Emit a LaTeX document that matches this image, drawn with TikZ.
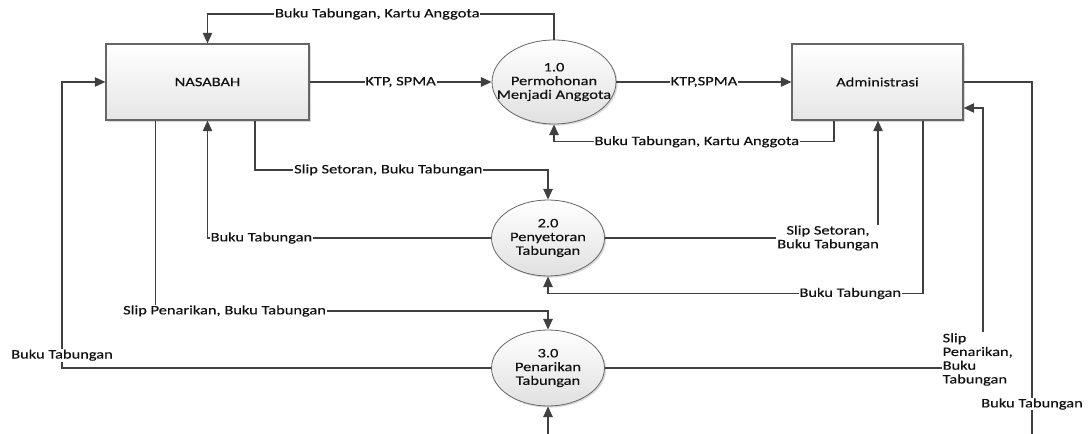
\documentclass[tikz,border=0pt]{standalone}
\usepackage{fontspec}
\setmainfont{Carlito}[FakeStretch=1.27, FakeBold=0.3]
\usetikzlibrary{arrows.meta,shapes.geometric,shadows}
\definecolor{wire}{HTML}{404040}
\definecolor{rim}{HTML}{666666}
\definecolor{ink}{HTML}{111111}
\tikzset{
  txt/.style={font=\fontsize{9.7pt}{10.3pt}\selectfont, text=ink},
  entity/.style={txt, rectangle, draw=rim, line width=0.8pt,
    top color=white, bottom color=black!10, inner sep=0pt,
    minimum height=57pt,
    drop shadow={shadow xshift=1.2pt, shadow yshift=-1.2pt, opacity=0.3}},
  process/.style={ellipse, draw=rim, line width=0.6pt,
    top color=white, bottom color=black!12, inner sep=0pt,
    drop shadow={shadow xshift=1.2pt, shadow yshift=-1.2pt, opacity=0.3}},
  ptext/.style={txt, align=center, inner sep=0pt},
  flow/.style={draw=wire, line width=1.2pt, -{Triangle[length=8pt,width=7pt]}},
  lbl/.style={txt, fill=white, inner sep=0.6pt},
}
\begin{document}
\begin{tikzpicture}[x=0.75pt, y=-0.75pt]
\useasboundingbox (0,0) rectangle (1091,434);

% external entities
\node[entity, minimum width=152.25pt] (nas) at (207.5,82) {NASABAH};
\node[entity, minimum width=128.25pt] (adm) at (877.5,82) {Administrasi};

% processes
\node[process, minimum width=93pt, minimum height=63pt] (p1) at (554,82) {};
\node[ptext] (p1t) at (p1) {1.0\\Permohonan\\Menjadi Anggota};
\node[process, minimum width=84.75pt, minimum height=57pt] (p2) at (548,238) {};
\node[ptext] (p2t) at (p2) {2.0\\Penyetoran\\Tabungan};
\node[process, minimum width=84.75pt, minimum height=57pt] (p3) at (548,368) {};
\node[ptext] (p3t) at (p3) {3.0\\Penarikan\\Tabungan};

% bend points
\coordinate (t1) at (554,14);     \coordinate (t2) at (207.5,14);
\coordinate (r1) at (834,141.7);  \coordinate (r2) at (554,141.7);
\coordinate (s1) at (255,170);    \coordinate (s2) at (548,170);
\coordinate (u1) at (207.5,238);
\coordinate (v1) at (878,238);
\coordinate (w1) at (923,293.5);  \coordinate (w2) at (548,293.5);
\coordinate (k1) at (155.5,311);  \coordinate (k2) at (548,311);
\coordinate (m1) at (62,368);
\coordinate (n1) at (983,368);    \coordinate (n2) at (983,108);
\coordinate (q1) at (1032,82);    \coordinate (q2) at (1032,450);
\coordinate (q3) at (548,450);

% data flows
\draw[flow] (nas.east) -- node[lbl] {KTP, SPMA} (p1.west);
\draw[flow] (p1.east) -- node[lbl] {KTP,SPMA} (adm.west);
\draw[flow] (p1.north) -- (t1) -- node[lbl, pos=0.51] {Buku Tabungan, Kartu Anggota} (t2) -- (nas.north);
\draw[flow] (adm.south -| r1) -- (r1) -- node[lbl, pos=0.49] {Buku Tabungan, Kartu Anggota} (r2) -- (p1.south);
\draw[flow] (nas.south -| s1) -- (s1) -- node[lbl, pos=0.455] {Slip Setoran, Buku Tabungan} (s2) -- (p2.north);
\draw[flow] (p2.west) -- node[lbl, pos=0.81] {Buku Tabungan} (u1) -- (nas.south);
\draw[flow] (p2.east) -- node[lbl, align=center, pos=0.817] {Slip Setoran,\\Buku Tabungan} (v1) -- (adm.south -| v1);
\draw[flow] (adm.south -| w1) -- (w1) -- node[lbl, pos=0.194] {Buku Tabungan} (w2) -- (p2.south);
\draw[flow] (nas.south -| k1) -- (k1) -- node[lbl, pos=0.176] {Slip Penarikan, Buku Tabungan} (k2) -- (p3.north);
\draw[flow] (p3.west) -- (m1) -- node[lbl, pos=0.045] {Buku Tabungan} (nas.west -| m1) -- (nas.west);
\draw[flow] (p3.east) -- node[lbl, align=left, anchor=west, pos=0.889, yshift=6.4pt] {Slip\\Penarikan,\\Buku\\Tabungan} (n1) -- (n2) -- (adm.east |- n2);
\draw[flow] (adm.east) -- (q1) -- node[lbl, pos=0.875] {Buku Tabungan} (q2) -- (q3) -- (p3.south);
\end{tikzpicture}
\end{document}
